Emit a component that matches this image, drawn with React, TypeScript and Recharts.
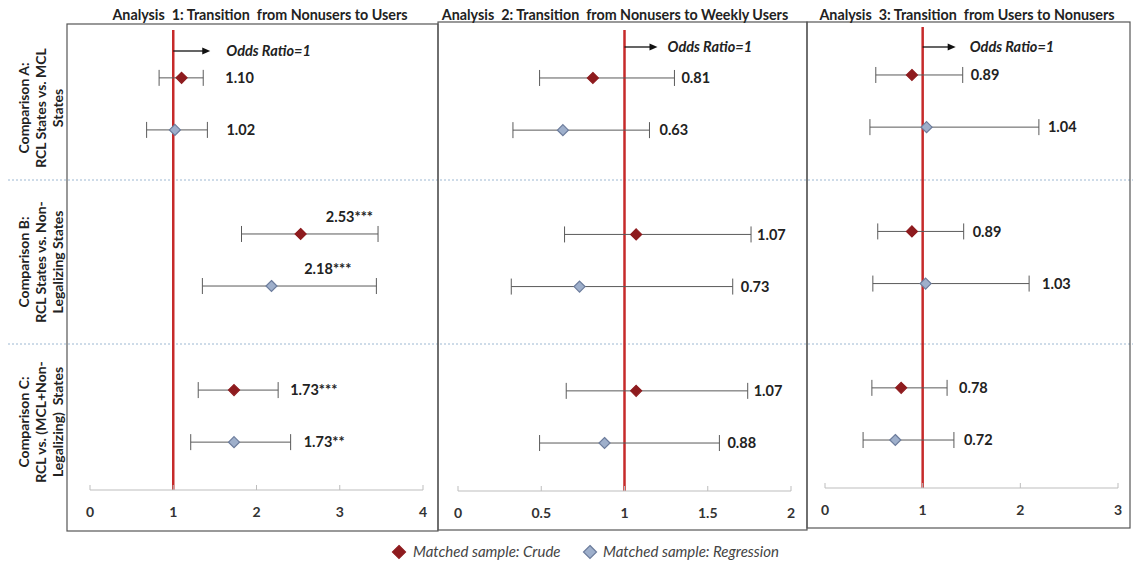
import React from 'react';
import { ScatterChart, Scatter, XAxis, YAxis, ErrorBar, ReferenceLine } from 'recharts';

// ---------- data ----------
const comparisons = ['A', 'B', 'C'];
const rowCrude = [0, 3, 6];
const rowReg = [1, 4, 7];

const titles = [
  'Analysis  1: Transition  from Nonusers to Users',
  'Analysis  2: Transition  from Nonusers to Weekly Users',
  'Analysis  3: Transition  from Users to Nonusers',
];

const rowLabelLines = [
  ['Comparison A:', 'RCL States vs. MCL', 'States'],
  ['Comparison B:', 'RCL States vs. Non-', 'Legalizing States'],
  ['Comparison C:', 'RCL vs. (MCL+Non-', 'Legalizing)  States'],
];

const ticks1 = [0, 1, 2, 3, 4];
const ticks2 = [0, 0.5, 1, 1.5, 2];
const ticks3 = [0, 1, 2, 3];

// Analysis 1
const a1CrudeOR = [1.10, 2.53, 1.73];
const a1CrudeLo = [0.83, 1.82, 1.30];
const a1CrudeHi = [1.36, 3.46, 2.26];
const a1CrudeTag = ['1.10', '2.53***', '1.73***'];
const a1RegOR = [1.02, 2.18, 1.73];
const a1RegLo = [0.68, 1.35, 1.21];
const a1RegHi = [1.41, 3.44, 2.41];
const a1RegTag = ['1.02', '2.18***', '1.73**'];

// Analysis 2
const a2CrudeOR = [0.81, 1.07, 1.07];
const a2CrudeLo = [0.49, 0.64, 0.65];
const a2CrudeHi = [1.30, 1.76, 1.74];
const a2CrudeTag = ['0.81', '1.07', '1.07'];
const a2RegOR = [0.63, 0.73, 0.88];
const a2RegLo = [0.33, 0.32, 0.49];
const a2RegHi = [1.15, 1.65, 1.57];
const a2RegTag = ['0.63', '0.73', '0.88'];

// Analysis 3
const a3CrudeOR = [0.89, 0.89, 0.78];
const a3CrudeLo = [0.52, 0.54, 0.48];
const a3CrudeHi = [1.41, 1.42, 1.25];
const a3CrudeTag = ['0.89', '0.89', '0.78'];
const a3RegOR = [1.04, 1.03, 0.72];
const a3RegLo = [0.46, 0.49, 0.39];
const a3RegHi = [2.19, 2.09, 1.32];
const a3RegTag = ['1.04', '1.03', '0.72'];

const oddsRatioLine = 1;

// ---------- style / layout ----------
const FONT = 'Lato, "Open Sans", sans-serif';
const CRUDE_FILL = '#8E1B1E';
const REG_FILL = '#9EAFCB';
const REG_STROKE = '#6C7C9C';
const RED_LINE = '#C62A2A';

type LabelCfg = { dx: number; dy?: number; anchor?: 'start' | 'end' };

const panels = [
  {
    title: titles[0], titleX: 260,
    frame: { x: 67, y: 24, w: 371, h: 507 },
    plot: { left: 90, right: 423, top: 30, bottom: 490 },
    domain: [0, 4], ticks: ticks1,
    crude: [a1CrudeOR, a1CrudeLo, a1CrudeHi, a1CrudeTag],
    reg: [a1RegOR, a1RegLo, a1RegHi, a1RegTag],
    crudeLab: [{ dx: 22 }, { dx: -5, dy: -17, anchor: 'end' }, { dx: 12 }] as LabelCfg[],
    regLab: [{ dx: 19 }, { dx: -25, dy: -17, anchor: 'end' }, { dx: 13 }] as LabelCfg[],
    arrowY: 21, arrowLen: 37, textDx: 53,
  },
  {
    title: titles[1], titleX: 615,
    frame: { x: 438, y: 22, w: 369, h: 508 },
    plot: { left: 458, right: 791, top: 30, bottom: 491 },
    domain: [0, 2], ticks: ticks2,
    crude: [a2CrudeOR, a2CrudeLo, a2CrudeHi, a2CrudeTag],
    reg: [a2RegOR, a2RegLo, a2RegHi, a2RegTag],
    crudeLab: [{ dx: 7 }, { dx: 6 }, { dx: 6 }] as LabelCfg[],
    regLab: [{ dx: 10 }, { dx: 8 }, { dx: 8 }] as LabelCfg[],
    arrowY: 17, arrowLen: 33, textDx: 43,
  },
  {
    title: titles[2], titleX: 967,
    frame: { x: 807, y: 22, w: 323, h: 506 },
    plot: { left: 825, right: 1118, top: 27, bottom: 488 },
    domain: [0, 3], ticks: ticks3,
    crude: [a3CrudeOR, a3CrudeLo, a3CrudeHi, a3CrudeTag],
    reg: [a3RegOR, a3RegLo, a3RegHi, a3RegTag],
    crudeLab: [{ dx: 8 }, { dx: 9 }, { dx: 12 }] as LabelCfg[],
    regLab: [{ dx: 9 }, { dx: 13 }, { dx: 10 }] as LabelCfg[],
    arrowY: 20, arrowLen: 33, textDx: 47,
  },
];

function buildPoints(series: any[], rows: number[]) {
  const [or, lo, hi, tag] = series;
  return comparisons.map((c, i) => ({
    comparison: c, x: or[i], y: rows[i], err: [or[i] - lo[i], hi[i] - or[i]], tag: tag[i], idx: i,
  }));
}
function buildLabelPoints(series: any[], rows: number[]) {
  const [, , hi, tag] = series;
  return comparisons.map((c, i) => ({ comparison: c, x: hi[i], y: rows[i], tag: tag[i], idx: i }));
}

const Diamond = ({ cx, cy, fill, stroke, r = 5.5 }: any) => {
  if (cx == null || cy == null) return null;
  return (
    <polygon
      points={`${cx},${cy - r} ${cx + r},${cy} ${cx},${cy + r} ${cx - r},${cy}`}
      fill={fill}
      stroke={stroke}
      strokeWidth={1.2}
    />
  );
};

const makeLabelShape = (cfg: LabelCfg[]) => (props: any) => {
  const { cx, cy, payload } = props;
  if (cx == null) return null;
  const c = cfg[payload.idx] || { dx: 10 };
  return (
    <text
      x={cx + c.dx}
      y={cy + (c.dy || 0)}
      dy="0.35em"
      textAnchor={c.anchor || 'start'}
      fontFamily={FONT}
      fontWeight={700}
      fontSize={14.5}
      fill="#222"
    >
      {payload.tag}
    </text>
  );
};

const AxisTick = (props: any) => {
  const { x, y, payload } = props;
  return (
    <g>
      <line x1={x} x2={x} y1={y - 5} y2={y} stroke="#BDBDBD" strokeWidth={1} />
      <text x={x} y={y + 27} textAnchor="middle" fontFamily={FONT} fontWeight={700} fontSize={14} fill="#333">
        {payload.value}
      </text>
    </g>
  );
};

const makeOddsLabel = (arrowY: number, len: number, textDx: number) => (props: any) => {
  const vb = props.viewBox || {};
  const x = vb.x;
  const y = (vb.y || 0) + arrowY;
  if (x == null) return null;
  return (
    <g>
      <line x1={x} x2={x + len - 6} y1={y} y2={y} stroke="#111" strokeWidth={1.3} />
      <polygon points={`${x + len},${y} ${x + len - 8},${y - 3.5} ${x + len - 8},${y + 3.5}`} fill="#111" />
      <text x={x + textDx} y={y} dy="0.35em" fontFamily={FONT} fontWeight={700} fontStyle="italic" fontSize={14.5} fill="#222">
        Odds Ratio=1
      </text>
    </g>
  );
};

const CHART_H = 532;
const XAXIS_H = 30;

function Panel({ p }: { p: (typeof panels)[number] }) {
  const crudePts = buildPoints(p.crude, rowCrude);
  const regPts = buildPoints(p.reg, rowReg);
  const crudeLabPts = buildLabelPoints(p.crude, rowCrude);
  const regLabPts = buildLabelPoints(p.reg, rowReg);
  const width = p.frame.w;
  const margin = {
    left: p.plot.left - p.frame.x,
    right: p.frame.x + p.frame.w - p.plot.right,
    top: p.plot.top,
    bottom: CHART_H - p.plot.bottom - XAXIS_H,
  };
  return (
    <div style={{ position: 'absolute', left: p.frame.x, top: 0 }}>
      <ScatterChart width={width} height={CHART_H} margin={margin}>
        <XAxis
          type="number"
          dataKey="x"
          domain={p.domain}
          ticks={p.ticks}
          interval={0}
          allowDataOverflow
          tickLine={false}
          tickSize={0}
          tickMargin={0}
          height={XAXIS_H}
          axisLine={{ stroke: '#BDBDBD', strokeWidth: 1 }}
          tick={(tp: any) => <AxisTick {...tp} />}
        />
        <YAxis type="number" dataKey="y" domain={[-0.92, 7.92]} reversed hide allowDataOverflow />
        <ReferenceLine
          x={oddsRatioLine}
          stroke={RED_LINE}
          strokeWidth={2.5}
          label={makeOddsLabel(p.arrowY, p.arrowLen, p.textDx)}
        />
        <Scatter
          name="Matched sample: Crude"
          data={crudePts}
          isAnimationActive={false}
          shape={(sp: any) => <Diamond {...sp} fill={CRUDE_FILL} stroke={CRUDE_FILL} />}
        >
          <ErrorBar dataKey="err" direction="x" width={8} stroke="#5A5A5A" strokeWidth={1} isAnimationActive={false} />
        </Scatter>
        <Scatter
          name="Matched sample: Regression"
          data={regPts}
          isAnimationActive={false}
          shape={(sp: any) => <Diamond {...sp} fill={REG_FILL} stroke={REG_STROKE} />}
        >
          <ErrorBar dataKey="err" direction="x" width={8} stroke="#5A5A5A" strokeWidth={1} isAnimationActive={false} />
        </Scatter>
        <Scatter data={crudeLabPts} isAnimationActive={false} shape={makeLabelShape(p.crudeLab)} />
        <Scatter data={regLabPts} isAnimationActive={false} shape={makeLabelShape(p.regLab)} />
      </ScatterChart>
    </div>
  );
}

const rowLabelCenters = [108, 262, 422];
const rowLabelXs = [24, 41, 58];
const separatorsY = [180, 344];

export default function App() {
  return (
    <div style={{ position: 'absolute', left: 0, top: 0, width: 1133, height: 566, background: '#fff', overflow: 'hidden' }}>
      <svg width={1133} height={566} style={{ position: 'absolute', left: 0, top: 0 }}>
        {separatorsY.map((y) => (
          <line key={y} x1={8} x2={1133} y1={y} y2={y} stroke="#9DB8D2" strokeWidth={1} strokeDasharray="2 2" />
        ))}
        {panels.map((p, i) => (
          <g key={i}>
            <rect x={p.frame.x} y={p.frame.y} width={p.frame.w} height={p.frame.h} fill="none" stroke="#555" strokeWidth={1.2} />
            <text
              x={p.titleX}
              y={20}
              textAnchor="middle"
              fontFamily={FONT}
              fontWeight={700}
              fontSize={14.3}
              fill="#222"
              style={{ whiteSpace: 'pre' }}
            >
              {p.title}
            </text>
          </g>
        ))}
        {rowLabelLines.map((lines, r) =>
          lines.map((t, j) => (
            <text
              key={`${r}-${j}`}
              x={rowLabelXs[j]}
              y={rowLabelCenters[r]}
              transform={`rotate(-90 ${rowLabelXs[j]} ${rowLabelCenters[r]})`}
              textAnchor="middle"
              dy="0.35em"
              fontFamily={FONT}
              fontWeight={700}
              fontSize={14}
              fill="#222"
              style={{ whiteSpace: 'pre' }}
            >
              {t}
            </text>
          )),
        )}
        {/* legend */}
        <Diamond cx={399} cy={552} r={6.5} fill={CRUDE_FILL} stroke={CRUDE_FILL} />
        <text x={413} y={552} dy="0.35em" fontFamily={FONT} fontStyle="italic" fontSize={15} fill="#444">
          Matched sample: Crude
        </text>
        <Diamond cx={590} cy={552} r={6.5} fill={REG_FILL} stroke={REG_STROKE} />
        <text x={603} y={552} dy="0.35em" fontFamily={FONT} fontStyle="italic" fontSize={15} fill="#444">
          Matched sample: Regression
        </text>
      </svg>
      {panels.map((p, i) => (
        <Panel key={i} p={p} />
      ))}
    </div>
  );
}
